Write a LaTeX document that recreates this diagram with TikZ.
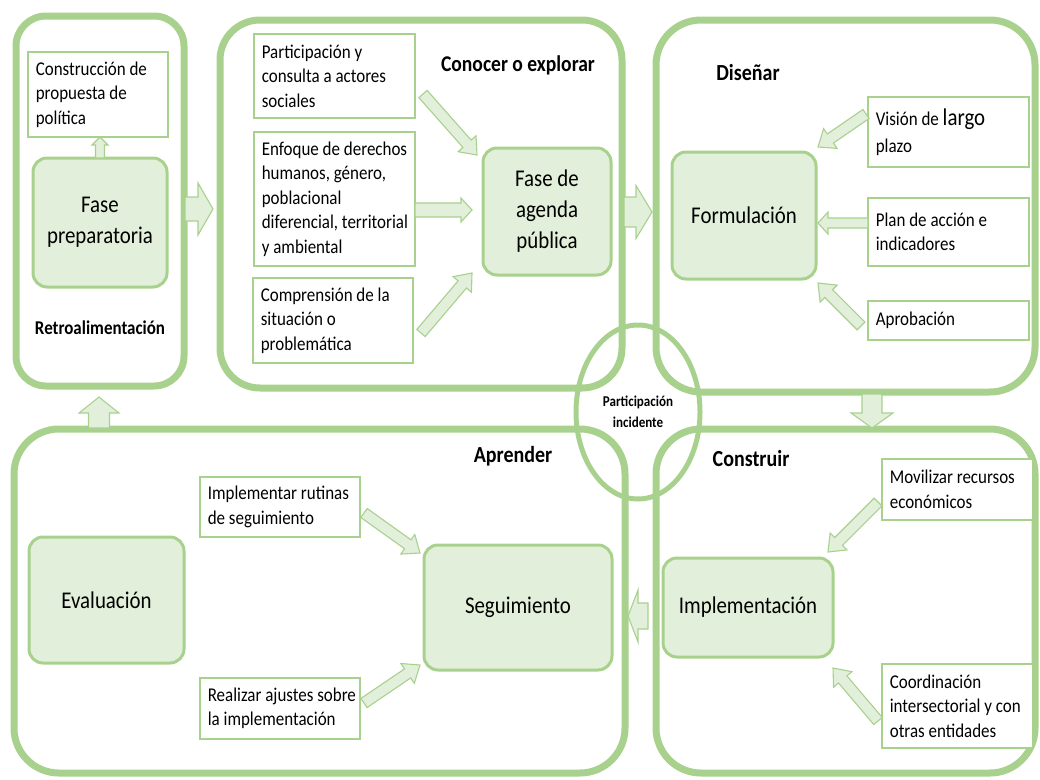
\documentclass[tikz,border=0pt]{standalone}
\usepackage{fontspec}
\setmainfont{Carlito}[FakeStretch=0.87]
\usetikzlibrary{calc,shapes.geometric}
\definecolor{gline}{RGB}{169,209,142}
\definecolor{gfill}{RGB}{226,239,218}
\newcommand{\fsmall}{\fontsize{19.5}{24.5}\selectfont}
\newcommand{\fbig}{\fontsize{24}{31}\selectfont}
\newcommand{\flab}{\fontsize{23}{26}\selectfont\bfseries}
\newcommand{\blockarr}[5]{%
  \coordinate (bac) at ($(#2)!#5pt!(#1)$);
  \draw[barrow] ($(#1)!#3pt!90:(#2)$) -- ($(bac)!#3pt!90:(#2)$) -- ($(bac)!#4pt!90:(#2)$) -- (#2) -- ($(bac)!#4pt!-90:(#2)$) -- ($(bac)!#3pt!-90:(#2)$) -- ($(#1)!#3pt!-90:(#2)$) -- cycle;}
\newcommand{\tbox}[6]{%
  \node[rbox, minimum width=#4pt, minimum height=#5pt] (#1) at (#2,#3) {};
  \node[rtext, anchor=west] (#1t) at ($(#1.west)+(8.5,0)$) {#6};}
\tikzset{
  cont/.style={draw=gline, line width=7pt, rounded corners=#1, inner sep=0pt},
  rbox/.style={draw=gline, line width=1.8pt, fill=white, inner sep=0pt},
  rtext/.style={align=left, inner sep=0pt, font=\fsmall},
  gbox/.style={draw=gline, line width=3pt, fill=gfill, rounded corners=14pt, align=center, font=\fbig},
  lab/.style={font=\flab, inner sep=0pt},
  barrow/.style={draw=gline, line width=1.1pt, fill=gfill, line join=miter},
}
\begin{document}
\begin{tikzpicture}[x=1pt,y=-1pt]
\useasboundingbox (0,0) rectangle (1040,779);
% containers
\node[cont=30pt, minimum width=168pt, minimum height=370pt] (retro) at (100,201) {};
\node[cont=40pt, minimum width=402pt, minimum height=368pt] (conocer) at (421,204) {};
\node[cont=45pt, minimum width=379pt, minimum height=372pt] (disenar) at (845.5,206) {};
\node[cont=45pt, minimum width=611pt, minimum height=344pt] (aprender) at (319.5,601) {};
\node[cont=45pt, minimum width=379pt, minimum height=344pt] (construir) at (845.5,601) {};
\node[draw=gline, line width=5pt, ellipse, minimum width=124pt, minimum height=174pt, align=center, font=\fontsize{15}{21}\selectfont\bfseries] (part) at (638,412) {Participación\\incidente};

% labels
\node[lab, font=\fontsize{19.5}{22}\selectfont\bfseries] (lretro) at (100,328) {Retroalimentación};
\node[lab, font=\fontsize{22.5}{26}\selectfont\bfseries] (lconocer) at (518,65) {Conocer o explorar};
\node[lab] (ldisenar) at (748,73) {Diseñar};
\node[lab] (laprender) at (513,456) {Aprender};
\node[lab] (lconstruir) at (751,459) {Construir};

% green rounded boxes
\node[gbox, minimum width=134pt, minimum height=129pt] (fprep) at (100,222.5) {Fase\\preparatoria};
\node[gbox, minimum width=128pt, minimum height=127pt] (agenda) at (547,211.5) {Fase de\\agenda\\pública};
\node[gbox, minimum width=144pt, minimum height=127pt] (formul) at (744,215.5) {Formulación};
\node[gbox, minimum width=155pt, minimum height=126pt] (eval) at (106.5,600) {Evaluación};
\node[gbox, minimum width=188pt, minimum height=125pt] (seguim) at (518,607.5) {Seguimiento};
\node[gbox, minimum width=170pt, minimum height=99pt] (implem) at (748,607.5) {Implementación};

% white rectangular boxes
\tbox{constr}{98}{94.5}{140}{85}{Construcción de\\propuesta de\\política}
\tbox{partic}{334.5}{76}{161}{84}{Participación y\\consulta a actores\\sociales}
\tbox{enfoque}{334.5}{199}{161}{134}{Enfoque de derechos\\humanos, género,\\poblacional\\diferencial, territorial\\y ambiental}
\tbox{compren}{333}{320.5}{160}{85}{Comprensión de la\\situación o\\problemática}
\tbox{vision}{948.5}{132}{161}{70}{Visión de {\fontsize{24}{24}\selectfont largo}\\[2pt]plazo}
\tbox{plan}{948.5}{232}{161}{68}{Plan de acción e\\indicadores}
\tbox{aprob}{948.5}{320.5}{161}{39}{Aprobación}
\tbox{implr}{280}{507}{160}{60}{Implementar rutinas\\de seguimiento}
\tbox{realiz}{280}{708.5}{160}{61}{Realizar ajustes sobre\\la implementación}
\tbox{moviliz}{957.5}{489.5}{151}{61}{Movilizar recursos\\económicos}
\tbox{coord}{957.5}{706}{151}{84}{Coordinación\\intersectorial y con\\otras entidades}

% arrow end coordinates
\coordinate (a1s) at (185,209); \coordinate (a1t) at (213,209);
\coordinate (a2s) at (624,212); \coordinate (a2t) at (652,212);
\coordinate (a3s) at (872,394); \coordinate (a3t) at (872,428);
\coordinate (a4s) at (648,616); \coordinate (a4t) at (628,616);
\coordinate (a5s) at (99,428); \coordinate (a5t) at (99,397);
\coordinate (a6s) at (100,158); \coordinate (a6t) at (100,137);
\coordinate (d1s) at (423,94); \coordinate (d1t) at (477,155);
\coordinate (d2s) at (415,210); \coordinate (d2t) at (472,210);
\coordinate (d3s) at (421,333); \coordinate (d3t) at (472,273);
\coordinate (d4s) at (866,114); \coordinate (d4t) at (818,147);
\coordinate (d5s) at (868,223); \coordinate (d5t) at (818,223);
\coordinate (d6s) at (861,326); \coordinate (d6t) at (818,283);
\coordinate (d7s) at (364,513); \coordinate (d7t) at (420,553);
\coordinate (d8s) at (364,703); \coordinate (d8t) at (420,665);
\coordinate (d9s) at (878,502); \coordinate (d9t) at (828,552);
\coordinate (d10s) at (878,721); \coordinate (d10t) at (833,668);

% block arrows
\blockarr{a1s}{a1t}{12}{26}{15}
\blockarr{a2s}{a2t}{15}{26.5}{16}
\blockarr{a3s}{a3t}{10}{21}{15}
\blockarr{a4s}{a4t}{13}{26}{10}
\blockarr{a5s}{a5t}{10.5}{20}{16}
\blockarr{a6s}{a6t}{4.5}{8}{8}
\blockarr{d1s}{d1t}{5.5}{12}{15}
\blockarr{d2s}{d2t}{7}{12}{11}
\blockarr{d3s}{d3t}{5.5}{12}{15}
\blockarr{d4s}{d4t}{5.5}{12}{15}
\blockarr{d5s}{d5t}{5}{11}{10}
\blockarr{d6s}{d6t}{5.5}{12}{15}
\blockarr{d7s}{d7t}{5.5}{12}{15}
\blockarr{d8s}{d8t}{5.5}{12}{15}
\blockarr{d9s}{d9t}{5.5}{12}{15}
\blockarr{d10s}{d10t}{5.5}{12}{15}
\end{tikzpicture}
\end{document}
